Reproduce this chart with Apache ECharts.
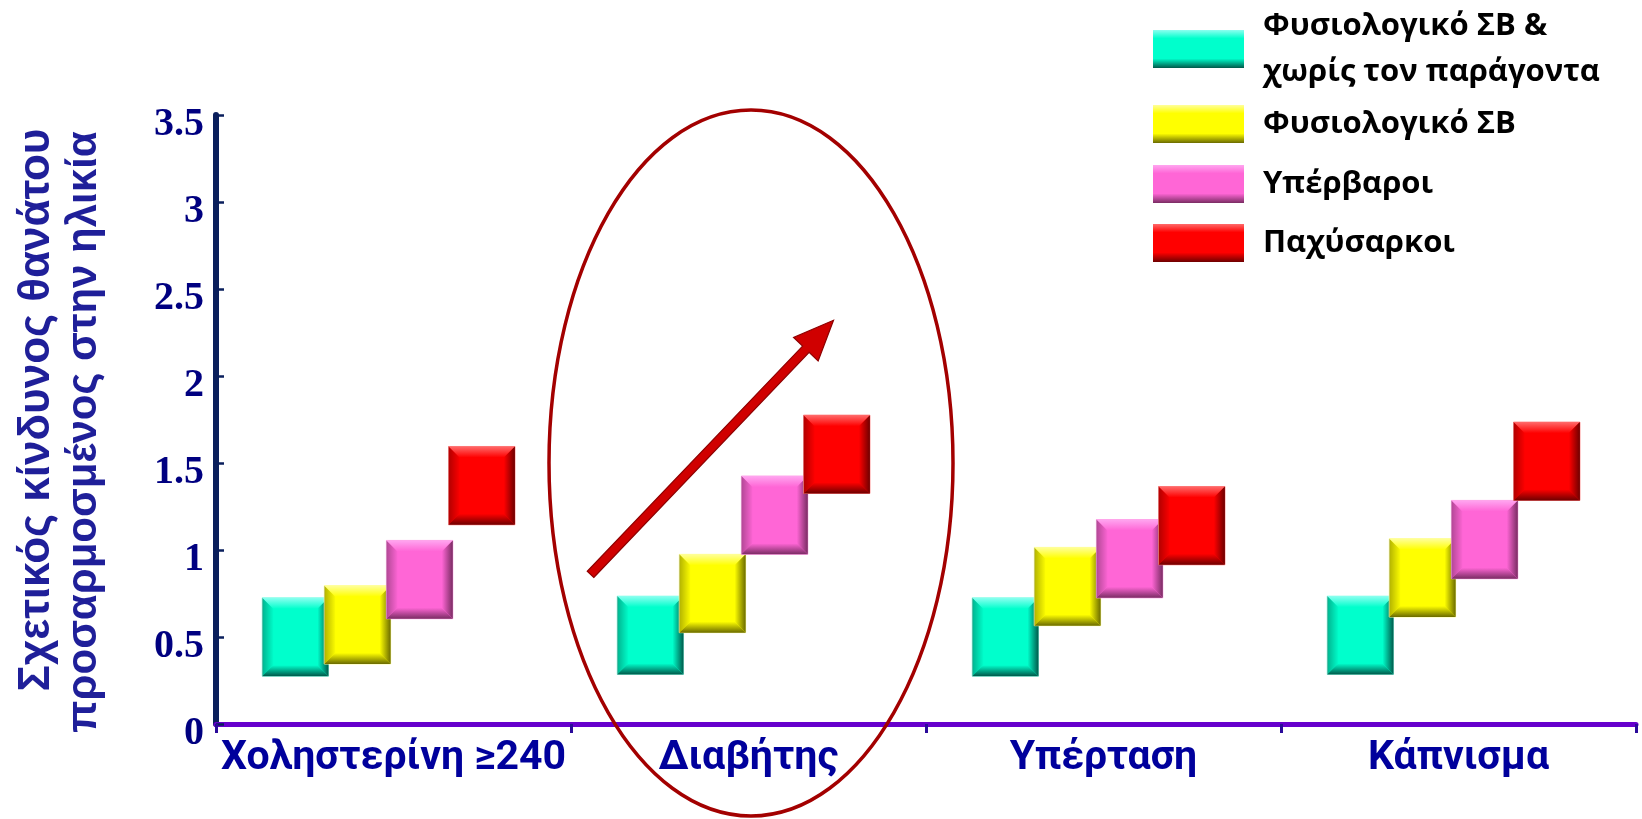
<!DOCTYPE html>
<html>
<head>
<meta charset="utf-8">
<script src="https://cdn.jsdelivr.net/npm/echarts@6/dist/echarts.min.js"></script>
<style>
  html, body { margin: 0; padding: 0; background: #ffffff; }
  #chart { width: 1642px; height: 819px; }
</style>
</head>
<body>
<div id="chart"></div>
<script>
// Risk factor groups along the x axis
const categories = ['Χοληστερίνη ≥240', 'Διαβήτης', 'Υπέρταση', 'Κάπνισμα'];

// Body-weight groups (one coloured block per group inside each risk factor)
const groupNames = ['Φυσιολογικό ΣΒ &\nχωρίς τον παράγοντα', 'Φυσιολογικό ΣΒ', 'Υπέρβαροι', 'Παχύσαρκοι'];

// Age-adjusted relative risk of death (centre of each block)
const normalNoFactor = [0.50, 0.51, 0.50, 0.51];
const normalWeight   = [0.57, 0.75, 0.79, 0.84];
const overweight     = [0.83, 1.20, 0.95, 1.06];
const obese          = [1.37, 1.55, 1.14, 1.51];

// Y axis ticks
const yTickValues = [0, 0.5, 1, 1.5, 2, 2.5, 3, 3.5];

const groupValues = [normalNoFactor, normalWeight, overweight, obese];

// Vertical extent of a block in value units
const BLOCK_SPAN = 0.45;
// Horizontal layout of the blocks, as fractions of a category band
const BLOCK_WIDTH = 0.187;
const BLOCK_STEP = 0.175;
const GROUP_SHIFT = -0.014;
const BEVEL = 11;

const palettes = [
  { base: '#00FFCC', light: '#8CFFF0', dark: '#00594A', edge: '#9FFFEA' },
  { base: '#FFFF00', light: '#FFFF9A', dark: '#6B6B00', edge: '#FFFF99' },
  { base: '#FF66D6', light: '#FFA6F0', dark: '#7A2C63', edge: '#FFA3E6' },
  { base: '#FF0000', light: '#FF6A6A', dark: '#6E0000', edge: '#FF8080' }
];

function linear(x, y, x2, y2, c0, c1) {
  return { type: 'linear', x: x, y: y, x2: x2, y2: y2,
           colorStops: [{ offset: 0, color: c0 }, { offset: 1, color: c1 }] };
}

function blockRenderer(idx) {
  const pal = palettes[idx];
  return function (params, api) {
    const cat = api.value(0);
    const lo = api.value(1);
    const hi = api.value(2);
    const bandW = api.size([1, 0])[0];
    const centreX = api.coord([cat, lo])[0];
    const w = bandW * BLOCK_WIDTH;
    const step = bandW * BLOCK_STEP;
    const x = centreX + (idx - 1.5) * step - w / 2 + bandW * GROUP_SHIFT;
    const y = api.coord([cat, hi])[1];
    const h = api.coord([cat, lo])[1] - y;
    const b = BEVEL;
    return {
      type: 'group',
      children: [
        { type: 'rect', shape: { x: x, y: y, width: w, height: h },
          style: { fill: pal.base, stroke: pal.edge, lineWidth: 1 } },
        // top bevel
        { type: 'polygon', shape: { points: [[x, y], [x + w, y], [x + w - b, y + b], [x + b, y + b]] },
          style: { fill: linear(0, 0, 0, 1, pal.light, pal.base) } },
        // left bevel
        { type: 'polygon', shape: { points: [[x, y], [x + b, y + b], [x + b, y + h - b], [x, y + h]] },
          style: { fill: linear(0, 0, 1, 0, 'rgba(0,0,0,0.3)', 'rgba(0,0,0,0.02)') } },
        // right bevel
        { type: 'polygon', shape: { points: [[x + w, y], [x + w, y + h], [x + w - b, y + h - b], [x + w - b, y + b]] },
          style: { fill: linear(1, 0, 0, 0, pal.dark, pal.base) } },
        // bottom bevel
        { type: 'polygon', shape: { points: [[x, y + h], [x + w, y + h], [x + w - b, y + h - b], [x + b, y + h - b]] },
          style: { fill: linear(0, 1, 0, 0, pal.dark, pal.base) } }
      ]
    };
  };
}

const series = groupNames.map(function (name, idx) {
  return {
    type: 'custom',
    name: name,
    renderItem: blockRenderer(idx),
    itemStyle: { color: palettes[idx].base },
    encode: { x: 0, y: [1, 2] },
    data: groupValues[idx].map(function (v, i) {
      return [i, v - BLOCK_SPAN / 2, v + BLOCK_SPAN / 2];
    }),
    z: 2 + idx
  };
});

function legendIcon(idx) {
  const p = palettes[idx];
  return {
    type: 'linear', x: 0, y: 0, x2: 0, y2: 1,
    colorStops: [
      { offset: 0, color: p.light },
      { offset: 0.22, color: p.base },
      { offset: 0.75, color: p.base },
      { offset: 1, color: p.dark }
    ]
  };
}

const legendTops = [0, 100, 160, 219];
const legends = groupNames.map(function (name, idx) {
  const twoLines = name.indexOf('\n') >= 0;
  return {
    left: 1153,
    top: legendTops[idx],
    padding: 0,
    orient: 'vertical',
    selectedMode: false,
    itemWidth: 91,
    itemHeight: 38,
    data: [{ name: name, icon: 'rect', itemStyle: { color: legendIcon(idx), borderWidth: 0 } }],
    textStyle: {
      fontFamily: '"Open Sans", "Noto Sans", sans-serif',
      fontWeight: 'bold',
      fontSize: 31,
      color: '#000000',
      lineHeight: twoLines ? 46 : 32,
      padding: twoLines ? [0, 0, 6, 14] : [0, 0, 16, 14]
    }
  };
});

const chart = echarts.init(document.getElementById('chart'), null, { renderer: 'canvas' });

chart.setOption({
  backgroundColor: '#ffffff',
  animation: false,
  grid: { left: 216, right: 6, top: 115, bottom: 95, containLabel: false },
  legend: legends,
  xAxis: {
    type: 'category',
    data: categories,
    boundaryGap: true,
    axisLine: { show: true, lineStyle: { color: '#6600CC', width: 5 } },
    axisTick: { show: true, length: 9, inside: false, lineStyle: { color: '#2A0A9A', width: 3 } },
    axisLabel: {
      interval: 0,
      margin: 14,
      color: '#00009C',
      fontFamily: 'Roboto, "Noto Sans", sans-serif',
      fontWeight: 'bold',
      fontSize: 41
    },
    splitLine: { show: false }
  },
  yAxis: {
    type: 'value',
    min: yTickValues[0],
    max: yTickValues[yTickValues.length - 1],
    interval: 0.5,
    axisLine: { show: true, lineStyle: { color: '#0A1F5C', width: 6 } },
    axisTick: { show: true, inside: true, length: 8, lineStyle: { color: '#0A1F5C', width: 2.5 } },
    axisLabel: {
      margin: 12,
      color: '#000080',
      fontFamily: '"Liberation Serif", "Times New Roman", serif',
      fontWeight: 'bold',
      fontSize: 40,
      verticalAlign: 'top',
      lineHeight: 20
    },
    splitLine: { show: false }
  },
  series: series
});

// Annotations: axis title, the ring around "Διαβήτης" and the rising arrow
const ringCentre = chart.convertToPixel({ xAxisIndex: 0, yAxisIndex: 0 }, [categories[1], 1.5]);
const arrowFrom = chart.convertToPixel({ xAxisIndex: 0, yAxisIndex: 0 }, [categories[1], 0.86]);
const arrowTo = chart.convertToPixel({ xAxisIndex: 0, yAxisIndex: 0 }, [categories[1], 2.32]);
const p0 = [arrowFrom[0] - 158, arrowFrom[1]];
const p1 = [arrowTo[0] + 85, arrowTo[1]];

function arrowPoints(a, b, shaftHalf, headLen, headHalf) {
  const dx = b[0] - a[0], dy = b[1] - a[1];
  const len = Math.sqrt(dx * dx + dy * dy);
  const ux = dx / len, uy = dy / len;
  const nx = -uy, ny = ux;
  const base = [b[0] - ux * headLen, b[1] - uy * headLen];
  return [
    [a[0] + nx * shaftHalf, a[1] + ny * shaftHalf],
    [base[0] + nx * shaftHalf, base[1] + ny * shaftHalf],
    [base[0] + nx * headHalf, base[1] + ny * headHalf],
    b,
    [base[0] - nx * headHalf, base[1] - ny * headHalf],
    [base[0] - nx * shaftHalf, base[1] - ny * shaftHalf],
    [a[0] - nx * shaftHalf, a[1] - ny * shaftHalf]
  ];
}

chart.setOption({
  graphic: [
    {
      type: 'text', x: 37, y: 410, rotation: Math.PI / 2, z: 50,
      style: {
        text: 'Σχετικός κίνδυνος θανάτου',
        fontFamily: '"Liberation Sans", Arial, sans-serif', fontWeight: 'bold', fontSize: 44,
        fill: '#1F1F99', align: 'center', verticalAlign: 'middle'
      }
    },
    {
      type: 'text', x: 84, y: 432, rotation: Math.PI / 2, z: 50,
      style: {
        text: 'προσαρμοσμένος στην ηλικία',
        fontFamily: '"Liberation Sans", Arial, sans-serif', fontWeight: 'bold', fontSize: 42,
        fill: '#1F1F99', align: 'center', verticalAlign: 'middle'
      }
    },
    {
      type: 'ellipse', z: 100,
      shape: { cx: ringCentre[0] + 2.5, cy: ringCentre[1], rx: 202, ry: 353 },
      style: { fill: null, stroke: '#A30000', lineWidth: 3.5 }
    },
    {
      type: 'polygon', z: 100,
      shape: { points: arrowPoints(p0, p1, 4.5, 40, 17) },
      style: { fill: '#D00000', stroke: '#8E0000', lineWidth: 1.2 }
    }
  ]
});
</script>
</body>
</html>
